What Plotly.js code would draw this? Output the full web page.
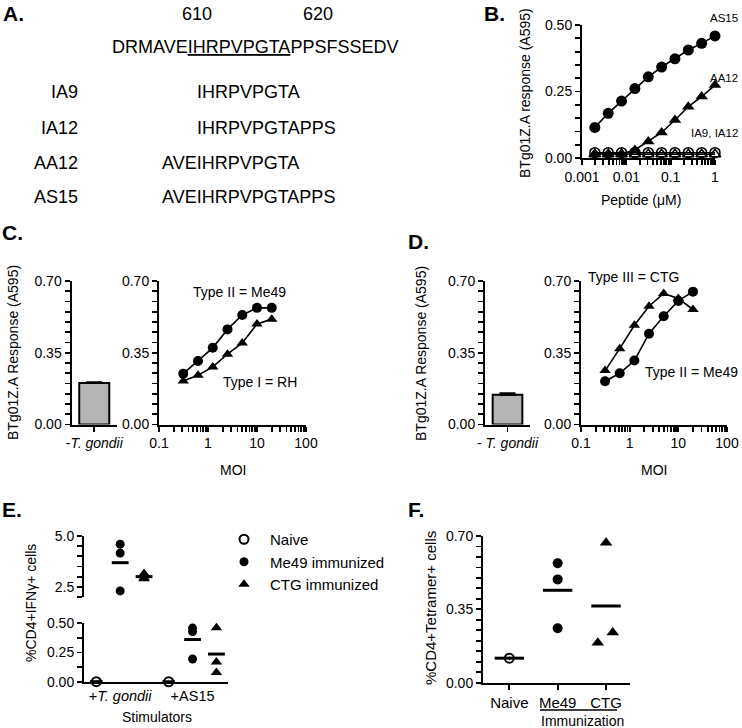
<!DOCTYPE html>
<html><head><meta charset="utf-8">
<script src="https://cdn.plot.ly/plotly-3.0.1.min.js"></script>
<style>html,body{margin:0;padding:0;background:#fff}#chart{width:742px;height:728px}</style>
</head><body><div id="chart"></div>
<script>
// ---------------- Data ----------------
// Panel A
const seqFull = 'DRMAVE<u>IHRPVPGTA</u>PPSFSSEDV';
const seqPositions = ['610', '620'];
const peptideNames = ['IA9', 'IA12', 'AA12', 'AS15'];
const peptideSeqs = ['IHRPVPGTA', 'IHRPVPGTAPPS', 'AVEIHRPVPGTA', 'AVEIHRPVPGTAPPS'];

// Panel B
const bPeptideUM = [0.00195, 0.0039, 0.0078, 0.0156, 0.03125, 0.0625, 0.125, 0.25, 0.5, 1];
const bAS15 = [0.115, 0.168, 0.214, 0.261, 0.305, 0.342, 0.373, 0.406, 0.431, 0.459];
const bAA12 = [0.015, 0.015, 0.016, 0.030, 0.062, 0.096, 0.143, 0.193, 0.231, 0.274];
const bIA9 = [0.020, 0.020, 0.020, 0.020, 0.020, 0.020, 0.020, 0.020, 0.020, 0.020];
const bIA12 = [0.014, 0.014, 0.014, 0.014, 0.014, 0.014, 0.014, 0.014, 0.014, 0.014];

// Panels C and D
const moi = [0.3125, 0.625, 1.25, 2.5, 5, 10, 20];
const cMe49 = [0.248, 0.310, 0.374, 0.464, 0.534, 0.569, 0.569];
const cRH = [0.212, 0.240, 0.281, 0.343, 0.398, 0.490, 0.514];
const cNoParasite = [0.202];
const cNoParasiteErr = [0.004];
const dMe49 = [0.211, 0.250, 0.312, 0.443, 0.528, 0.603, 0.648];
const dCTG = [0.263, 0.370, 0.484, 0.577, 0.639, 0.615, 0.561];
const dNoParasite = [0.145];
const dNoParasiteErr = [0.008];

// Panel E
const eGroups = ['+<i>T. gondii</i>', '+AS15'];
const eNaive = [[0.003], [0.002]];
const eMe49 = [[4.60, 4.16, 2.30], [0.457, 0.428, 0.195]];
const eCTG = [[3.15, 2.95, 2.90], [0.46, 0.17, 0.08]];

// Panel F
const fGroups = ['Naive', 'Me49', 'CTG'];
const fNaive = [0.117];
const fMe49 = [0.570, 0.493, 0.260];
const fCTG = [0.668, 0.239, 0.191];

// ---------------- Layout helpers ----------------
const W = 742, H = 728;
const px = p => p / W;
const py = p => 1 - p / H;
const FONT = '"Liberation Sans", Arial, Helvetica, sans-serif';
const K = '#000';

function ax(extra) {
  return Object.assign({
    showline: true, linecolor: K, linewidth: 2,
    ticks: 'outside', ticklen: 5, tickwidth: 1.8, tickcolor: K,
    showgrid: false, zeroline: false,
    tickfont: {family: FONT, size: 14, color: K}
  }, extra);
}
// linear axis: labelled ticks every `major`, unlabelled ticks every `minor`
function linTicks(lo, hi, major, minor, digits) {
  const vals = [], text = [];
  const n = Math.round((hi - lo) / minor);
  for (let i = 0; i <= n; i++) {
    const v = +(lo + i * minor).toFixed(6);
    vals.push(v);
    const r = v / major;
    text.push(Math.abs(r - Math.round(r)) < 1e-6 ? v.toFixed(digits) : '');
  }
  return {tickmode: 'array', tickvals: vals, ticktext: text};
}
// log axis: labelled decades, unlabelled 2..9 multiples
function logTicks(lo, hi) {
  const vals = [], text = [];
  for (let e = lo; e <= hi; e++) {
    const d = Math.pow(10, e);
    vals.push(d); text.push(String(+d.toPrecision(1)));
    if (e < hi) for (let m = 2; m <= 9; m++) { vals.push(+(m * d).toPrecision(3)); text.push(''); }
  }
  return {tickmode: 'array', tickvals: vals, ticktext: text};
}
const mean = a => a.reduce((s, v) => s + v, 0) / a.length;

// ---------------- Traces ----------------
const traces = [];
function line(x, y, xa, ya, symbol, size) {
  const open = symbol.indexOf('open') >= 0;
  traces.push({
    x, y, xaxis: xa, yaxis: ya, type: 'scatter', mode: 'lines+markers', cliponaxis: false, showlegend: false,
    line: {color: K, width: 1.6},
    marker: {symbol, size, color: K, line: {color: K, width: open ? 1.5 : 0}}
  });
}
// B
line(bPeptideUM, bIA9, 'x', 'y', 'circle-open', 10);
line(bPeptideUM, bIA12, 'x', 'y', 'triangle-up-open', 10);
line(bPeptideUM, bAA12, 'x', 'y', 'triangle-up', 11);
line(bPeptideUM, bAS15, 'x', 'y', 'circle', 11);
// C
line(moi, cRH, 'x3', 'y3', 'triangle-up', 10);
line(moi, cMe49, 'x3', 'y3', 'circle', 10);
// D
line(moi, dMe49, 'x5', 'y5', 'circle', 10);
line(moi, dCTG, 'x5', 'y5', 'triangle-up', 10);

function bar(val, err, xa, ya) {
  traces.push({
    type: 'bar', x: [0], y: val, xaxis: xa, yaxis: ya, width: 0.66, showlegend: false,
    marker: {color: '#b4b4b4', line: {color: K, width: 2}},
    error_y: {type: 'data', array: err, arrayminus: [0], symmetric: false, color: K, thickness: 2, width: 8}
  });
}
bar(cNoParasite, cNoParasiteErr, 'x2', 'y2');
bar(dNoParasite, dNoParasiteErr, 'x4', 'y4');

// E (broken y axis: values above eBreak go to the upper segment)
const eBreak = 1.0;
const eSeries = [
  {name: 'Naive', data: eNaive, off: -0.33, symbol: 'circle-open', size: 9, lineLen: 9},
  {name: 'Me49 immunized', data: eMe49, off: 0, symbol: 'circle', size: 9, lineLen: 12},
  {name: 'CTG immunized', data: eCTG, off: 0.33, symbol: 'triangle-up', size: 10, lineLen: 12}
];
eSeries.forEach(s => {
  [true, false].forEach(top => {
    const xs = [], ys = [], mx = [], my = [];
    s.data.forEach((vals, g) => {
      vals.forEach(v => { if ((v >= eBreak) === top) { xs.push(g + s.off); ys.push(v); } });
      const m = mean(vals);
      if ((m >= eBreak) === top) { mx.push(g + s.off); my.push(m); }
    });
    const open = s.symbol.indexOf('open') >= 0;
    traces.push({
      x: mx, y: my, xaxis: 'x6', yaxis: top ? 'y6' : 'y7', type: 'scatter', mode: 'markers', cliponaxis: false, showlegend: false,
      marker: {symbol: 'line-ew', size: s.lineLen, line: {color: K, width: 3}}
    });
    traces.push({
      x: xs, y: ys, xaxis: 'x6', yaxis: top ? 'y6' : 'y7', type: 'scatter', mode: 'markers', cliponaxis: false,
      name: s.name, showlegend: !top,
      marker: {symbol: s.symbol, size: s.size, color: K, line: {color: K, width: open ? 2 : 0}}
    });
  });
});

// F
const fCTGJitter = [0, 0.14, -0.17];
const fSeries = [
  {data: fNaive, symbol: 'circle-open', size: 9, jitter: null},
  {data: fMe49, symbol: 'circle', size: 10, jitter: null},
  {data: fCTG, symbol: 'triangle-up', size: 11, jitter: fCTGJitter}
];
fSeries.forEach((s, g) => {
  const open = s.symbol.indexOf('open') >= 0;
  traces.push({
    x: [g], y: [mean(s.data)], xaxis: 'x7', yaxis: 'y8', type: 'scatter', mode: 'markers', cliponaxis: false, showlegend: false,
    marker: {symbol: 'line-ew', size: 21, line: {color: K, width: 3}}
  });
  traces.push({
    x: s.data.map((v, i) => g + (s.jitter ? s.jitter[i] : 0)), y: s.data, xaxis: 'x7', yaxis: 'y8',
    type: 'scatter', mode: 'markers', cliponaxis: false, showlegend: false,
    marker: {symbol: open ? 'circle-open-dot' : s.symbol, size: s.size, color: K, line: {color: K, width: open ? 2 : 0}}
  });
});

// ---------------- Annotations ----------------
const annotations = [];
function ann(text, x, y, o) {
  annotations.push(Object.assign({
    text, x: px(x), y: py(y), xref: 'paper', yref: 'paper', showarrow: false,
    xanchor: 'center', yanchor: 'middle', font: {family: FONT, size: 14, color: K}
  }, o || {}));
}
function label(t, x, y) { ann('<b>' + t + '</b>', x, y, {xanchor: 'left', font: {family: FONT, size: 21, color: K}}); }
label('A.', 1, 13); label('B.', 482, 13); label('C.', 0, 233); label('D.', 406, 242); label('E.', 0, 510); label('F.', 406, 510);

// A
const f18 = {family: FONT, size: 18, color: K};
ann(seqPositions[0], 197, 14, {font: f18});
ann(seqPositions[1], 318, 14, {font: f18});
ann(seqFull, 110, 47, {xanchor: 'left', font: f18});
const pepY = [92, 128, 163, 197];
const pepX = [195, 195, 160, 160];
peptideNames.forEach((n, i) => {
  ann(n, 80, pepY[i], {xanchor: 'right', font: f18});
  ann(peptideSeqs[i], pepX[i], pepY[i], {xanchor: 'left', font: f18});
});

// B
ann('BTg01Z.A response (A595)', 525, 93, {textangle: -90});
ann('Peptide (\u03bcM)', 641, 200);
const f11 = {family: FONT, size: 11.5, color: K};
ann('AS15', 740, 18, {xanchor: 'right', font: f11});
ann('AA12', 740, 78, {xanchor: 'right', font: f11});
ann('IA9, IA12', 740, 133, {xanchor: 'right', font: f11});

// C
ann('BTg01Z.A Response (A595)', 13, 353, {textangle: -90});
ann('MOI', 233, 470);
ann('Type II = Me49', 240, 292);
ann('Type I = RH', 260, 382);
// D
ann('BTg01Z.A Response (A595)', 421, 353, {textangle: -90});
ann('MOI', 654, 470);
ann('Type III = CTG', 633, 277);
ann('Type II = Me49', 691, 372);
// E
ann('%CD4+IFN\u03b3+ cells', 31, 603, {textangle: -90});
ann('Stimulators', 157, 717);
// F
ann('%CD4+Tetramer+ cells', 430, 608, {textangle: -90, font: {family: FONT, size: 15, color: K}});
ann('Immunization', 582, 720.5);

// ---------------- Layout ----------------
const yCD = () => [py(424.5), py(281)];
const layout = {
  width: W, height: H, margin: {l: 0, r: 0, t: 0, b: 0},
  paper_bgcolor: '#fff', plot_bgcolor: 'rgba(0,0,0,0)',
  font: {family: FONT, size: 14, color: K},
  hovermode: false,
  bargap: 0,
  // B
  xaxis: ax(Object.assign({type: 'log', domain: [px(582), px(715)], range: [-3, 0], anchor: 'y'}, logTicks(-3, 0))),
  yaxis: ax(Object.assign({domain: [py(158), py(25)], range: [0, 0.5], anchor: 'x'}, linTicks(0, 0.5, 0.25, 0.05, 2))),
  // C bar
  xaxis2: ax({domain: [px(71.5), px(117)], range: [-0.5, 0.5], anchor: 'y2', tickmode: 'array', tickvals: [0], ticktext: ['-<i>T. gondii</i>']}),
  yaxis2: ax(Object.assign({domain: yCD(), range: [0, 0.7], anchor: 'x2'}, linTicks(0, 0.7, 0.35, 0.05, 2))),
  // C line
  xaxis3: ax(Object.assign({type: 'log', domain: [px(159), px(306)], range: [-1, 2], anchor: 'y3'}, logTicks(-1, 2))),
  yaxis3: ax(Object.assign({domain: yCD(), range: [0, 0.7], anchor: 'x3'}, linTicks(0, 0.7, 0.35, 0.05, 2))),
  // D bar
  xaxis4: ax({domain: [px(485), px(530)], range: [-0.5, 0.5], anchor: 'y4', tickmode: 'array', tickvals: [0], ticktext: ['- <i>T. gondii</i>']}),
  yaxis4: ax(Object.assign({domain: yCD(), range: [0, 0.7], anchor: 'x4'}, linTicks(0, 0.7, 0.35, 0.05, 2))),
  // D line
  xaxis5: ax(Object.assign({type: 'log', domain: [px(581), px(727)], range: [-1, 2], anchor: 'y5'}, logTicks(-1, 2))),
  yaxis5: ax(Object.assign({domain: yCD(), range: [0, 0.7], anchor: 'x5'}, linTicks(0, 0.7, 0.35, 0.05, 2))),
  // E
  xaxis6: ax({domain: [px(84), px(228)], range: [-0.5, 1.49], anchor: 'y7', ticks: '', tickmode: 'array', tickvals: [0, 1], ticktext: eGroups,
              tickfont: {family: FONT, size: 14.5, color: K}}),
  yaxis6: ax(Object.assign({domain: [py(597), py(536)], range: [2, 5], anchor: 'x6'}, linTicks(2, 5, 2.5, 0.5, 1))),
  yaxis7: ax(Object.assign({domain: [py(682), py(623)], range: [0, 0.5], anchor: 'x6'}, linTicks(0, 0.5, 0.25, 0.125, 2))),
  // F
  xaxis7: ax({domain: [px(483), px(630)], range: [-0.544, 2.496], anchor: 'y8', tickmode: 'array', tickvals: [0, 1, 2], ticktext: fGroups,
              tickfont: {family: FONT, size: 15, color: K}}),
  yaxis8: ax(Object.assign({domain: [py(682.7), py(536)], range: [0, 0.7], anchor: 'x7'}, linTicks(0, 0.7, 0.35, 0.05, 2))),
  showlegend: true,
  legend: {x: px(218), y: py(523), xanchor: 'left', yanchor: 'top', bgcolor: 'rgba(0,0,0,0)',
           font: {family: FONT, size: 15, color: K}, itemsizing: 'trace', tracegroupgap: 0, itemwidth: 42},
  annotations,
  shapes: [{type: 'line', xref: 'paper', yref: 'paper', x0: px(540), x1: px(617), y0: py(710), y1: py(710), line: {color: K, width: 1.5}}]
};

Plotly.newPlot('chart', traces, layout, {staticPlot: true, displayModeBar: false});
</script>
</body></html>
